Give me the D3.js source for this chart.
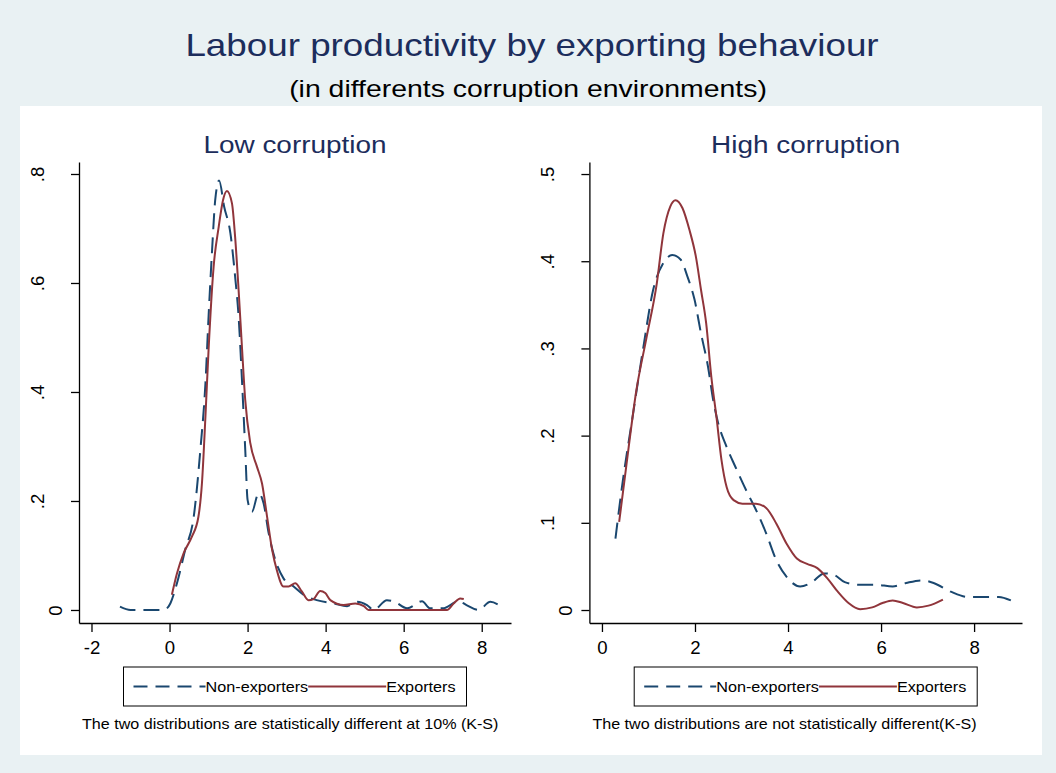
<!DOCTYPE html>
<html>
<head>
<meta charset="utf-8">
<script src="https://cdn.jsdelivr.net/npm/d3@7"></script>
<style>
  body { margin: 0; background: #e9f1f3; }
  svg { display: block; font-family: "Liberation Sans", Arial, sans-serif; }
</style>
</head>
<body>
<div id="chart"></div>
<script>
// kernel density estimates, [x, density]
var lowNonExporters = [[-1.27,0.006],[-1.0,0.0],[-0.6,0.0],[-0.15,0.0],[0.02,0.012],[0.19,0.049],[0.40,0.11],[0.62,0.171],
  [0.79,0.294],[0.92,0.416],[1.0,0.538],[1.09,0.66],[1.17,0.752],[1.27,0.788],[1.40,0.74],[1.56,0.691],[1.68,0.612],
  [1.77,0.538],[1.86,0.416],[1.94,0.294],[2.0,0.202],[2.11,0.18],[2.28,0.214],[2.41,0.196],[2.54,0.141],[2.71,0.092],
  [2.92,0.058],[3.18,0.043],[3.43,0.028],[3.77,0.018],[4.21,0.012],[4.55,0.007],[4.80,0.015],[5.06,0.009],[5.23,0.0],
  [5.57,0.018],[5.74,0.016],[6.09,0.003],[6.47,0.016],[6.68,0.003],[7.0,0.003],[7.41,0.016],[7.61,0.009],[7.92,0.0],
  [8.22,0.015],[8.44,0.009]];
var lowExporters = [[0.06,0.028],[0.19,0.067],[0.36,0.104],[0.57,0.134],[0.74,0.171],[0.83,0.232],[0.92,0.355],[1.0,0.477],
  [1.13,0.63],[1.26,0.703],[1.37,0.752],[1.47,0.769],[1.60,0.746],[1.68,0.685],[1.77,0.587],[1.86,0.477],[1.94,0.385],
  [2.07,0.306],[2.24,0.263],[2.37,0.232],[2.50,0.171],[2.63,0.11],[2.75,0.073],[2.92,0.043],[3.05,0.043],[3.22,0.049],
  [3.39,0.034],[3.56,0.018],[3.69,0.02],[3.86,0.035],[3.99,0.031],[4.12,0.018],[4.46,0.009],[4.76,0.012],[4.98,0.007],
  [5.1,0.0],[6.0,0.0],[7.11,0.0],[7.28,0.012],[7.45,0.021],[7.54,0.02]];
var highNonExporters = [[0.29,0.082],[0.44,0.145],[0.66,0.222],[0.88,0.298],[1.10,0.367],[1.32,0.398],[1.51,0.407],[1.69,0.402],
  [1.84,0.382],[1.99,0.356],[2.13,0.317],[2.28,0.279],[2.39,0.241],[2.50,0.214],[2.65,0.191],[2.87,0.164],[3.13,0.134],
  [3.31,0.115],[3.53,0.088],[3.75,0.057],[3.97,0.038],[4.26,0.027],[4.49,0.031],[4.78,0.042],[5.0,0.04],[5.22,0.032],
  [5.52,0.029],[5.88,0.029],[6.25,0.027],[6.54,0.031],[6.88,0.034],[7.13,0.031],[7.50,0.021],[7.87,0.015],[8.31,0.015],
  [8.53,0.015],[8.79,0.011]];
var highExporters = [[0.37,0.101],[0.52,0.164],[0.74,0.252],[0.96,0.313],[1.18,0.375],[1.32,0.432],[1.47,0.463],[1.58,0.470],
  [1.73,0.461],[1.88,0.436],[2.02,0.405],[2.13,0.367],[2.24,0.329],[2.35,0.268],[2.46,0.222],[2.57,0.172],[2.68,0.141],
  [2.83,0.126],[3.02,0.122],[3.31,0.122],[3.53,0.117],[3.75,0.099],[3.97,0.076],[4.19,0.059],[4.41,0.053],[4.63,0.048],
  [4.85,0.036],[5.07,0.021],[5.30,0.008],[5.55,0.001],[5.81,0.003],[6.03,0.008],[6.25,0.011],[6.47,0.008],[6.77,0.003],
  [7.02,0.005],[7.33,0.012]];

var lowXTicks = [-2, 0, 2, 4, 6, 8];
var lowYTicks = [0, 0.2, 0.4, 0.6, 0.8];
var highXTicks = [0, 2, 4, 6, 8];
var highYTicks = [0, 0.1, 0.2, 0.3, 0.4, 0.5];

var seriesNames = ["Non-exporters", "Exporters"];
var panelTitles = ["Low corruption", "High corruption"];
var panelNotes = ["The two distributions are statistically different at 10% (K-S)",
                  "The two distributions are not statistically different(K-S)"];
var mainTitle = "Labour productivity by exporting behaviour";
var subTitle = "(in differents corruption environments)";

var W = 1056, H = 773;
var stretch = 1.15;   // text in the original is drawn a bit wide
var navy = "#1a476f", maroon = "#90353b", titleCol = "#1c2d5c";

var svg = d3.select("#chart").append("svg").attr("width", W).attr("height", H);
svg.append("rect").attr("width", W).attr("height", H).attr("fill", "#e9f1f3");
svg.append("rect").attr("x", 20).attr("y", 106).attr("width", 1022).attr("height", 649).attr("fill", "#ffffff");

function addText(g, str, x, y, size, color, anchor) {
  return g.append("text")
    .attr("transform", "translate(" + x + "," + y + ") scale(" + stretch + ",1)")
    .attr("text-anchor", anchor || "middle")
    .style("font-size", size + "px")
    .attr("fill", color || "#000")
    .text(str);
}

addText(svg, mainTitle, 532, 56, 32, titleCol);
addText(svg, subTitle, 528, 97, 24.7, "#000");

var panels = [
  {title: panelTitles[0], note: panelNotes[0], xTicks: lowXTicks, yTicks: lowYTicks,
   xDomain: [-2.32, 8.75], yDomain: [-0.0239, 0.822], left: 79, right: 511,
   data: [lowNonExporters, lowExporters]},
  {title: panelTitles[1], note: panelNotes[1], xTicks: highXTicks, yTicks: highYTicks,
   xDomain: [-0.27, 9.03], yDomain: [-0.0149, 0.5138], left: 589.4, right: 1022,
   data: [highNonExporters, highExporters]}
];
var plotTop = 162, plotBottom = 623;

panels.forEach(function(p) {
  var g = svg.append("g");
  var x = d3.scaleLinear().domain(p.xDomain).range([p.left, p.right]);
  var y = d3.scaleLinear().domain(p.yDomain).range([plotBottom, plotTop]);
  var cx = (p.left + p.right) / 2;

  addText(g, p.title, cx, 153, 24.3, titleCol);

  var line = d3.line().x(function(d) { return x(d[0]); }).y(function(d) { return y(d[1]); })
    .curve(d3.curveMonotoneX);

  g.append("path").datum(p.data[0]).attr("d", line).attr("fill", "none")
    .attr("stroke", navy).attr("stroke-width", 2).attr("stroke-dasharray", "16,8");
  g.append("path").datum(p.data[1]).attr("d", line).attr("fill", "none")
    .attr("stroke", maroon).attr("stroke-width", 2);

  // x axis
  var xa = g.append("g").attr("transform", "translate(0," + plotBottom + ")")
    .call(d3.axisBottom(x).tickValues(p.xTicks).tickSize(9).tickSizeOuter(0).tickPadding(9)
      .tickFormat(function(d) { return String(d); }));
  // y axis
  var ya = g.append("g").attr("transform", "translate(" + p.left + ",0)")
    .call(d3.axisLeft(y).tickValues(p.yTicks).tickSize(8).tickSizeOuter(0)
      .tickFormat(function(d) { return d === 0 ? "0" : d3.format(".1f")(d).replace("0.", "."); }));

  [xa, ya].forEach(function(a) {
    a.attr("font-family", null).attr("font-size", null);
    a.selectAll("path, line").attr("stroke", "#000").attr("stroke-width", 1.3);
    a.selectAll("text").style("font-size", "18.6px").attr("fill", "#000");
  });
  ya.selectAll("text")
    .attr("x", null).attr("dy", null).attr("text-anchor", "middle")
    .attr("transform", function(d) { return "translate(" + (d === 0 ? -17 : -35) + ",0) rotate(-90)"; });

  // legend
  var lg = g.append("g");
  var boxW = 343, boxH = 39, bx = cx - boxW / 2, by = 667;
  lg.append("rect").attr("x", bx).attr("y", by).attr("width", boxW).attr("height", boxH)
    .attr("fill", "#fff").attr("stroke", "#000").attr("stroke-width", 1);
  var ly = by + boxH / 2, pos = bx + 10;
  var keyLen = [72, 78];
  seriesNames.forEach(function(name, i) {
    lg.append("line").attr("x1", pos).attr("x2", pos + keyLen[i]).attr("y1", ly).attr("y2", ly)
      .attr("stroke", i === 0 ? navy : maroon).attr("stroke-width", 2)
      .attr("stroke-dasharray", i === 0 ? "14,8" : null);
    pos += keyLen[i];
    var t = addText(lg, name, pos, ly + 5.5, 14.1, "#000", "start");
    pos += t.node().getComputedTextLength() * stretch;
  });

  addText(g, p.note, p.left + 3, 729, 14, "#000", "start");
});
</script>
</body>
</html>
